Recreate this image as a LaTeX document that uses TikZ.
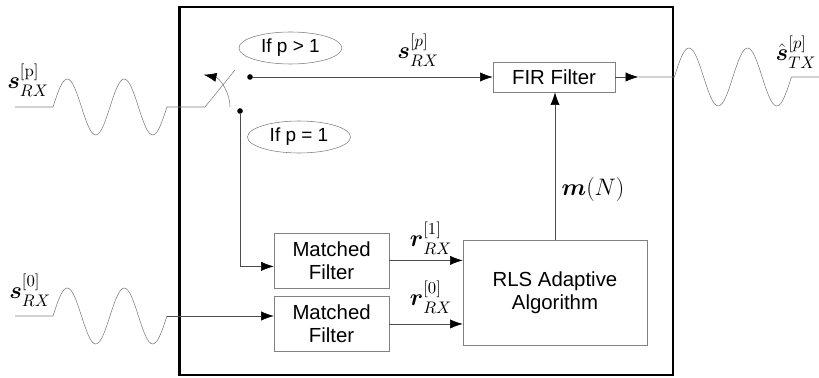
\documentclass[tikz,border=0pt]{standalone}
\usepackage{fix-cm}
\usepackage{amsmath}
\usepackage[no-math]{fontspec}
\setmainfont{Liberation Sans}
\usetikzlibrary{shapes,arrows.meta,positioning,calc}

\begin{document}
\begin{tikzpicture}[
    block/.style={rectangle, draw=gray, fill=white, align=center, inner sep=0pt, font=\fontsize{14.5}{16.5}\selectfont},
    cond/.style={ellipse, draw=gray, minimum width=2.575cm, minimum height=0.8cm, inner sep=0pt, font=\fontsize{13.5}{16}\selectfont},
    sig/.style={inner sep=0pt, font=\fontsize{17}{20}\selectfont},
    dot/.style={circle, fill=black, inner sep=0pt, minimum size=4pt},
    line/.style={draw=gray!60!black, thin},
    wave/.style={draw=gray, thin},
    arrow/.style={line, -{Latex[length=9pt, width=6.5pt, black]}}
]
\useasboundingbox (0,0) rectangle (20.475,-9.45);

% Frame
\node [draw, line width=2pt, minimum width=12.325cm, minimum height=9.2cm] (dsp) at (10.66,-4.775) {};

% Blocks
\node [block, minimum width=3.05cm, minimum height=0.75cm] (fir) at (13.85,-1.925) {FIR Filter};
\node [block, minimum width=4.6cm, minimum height=2.625cm] (rls) at (13.875,-7.325) {RLS Adaptive\\Algorithm};
\node [block, minimum width=2.875cm, minimum height=1.375cm] (mfa) at (8.29,-6.51) {Matched\\Filter};
\node [block, minimum width=2.875cm, minimum height=1.375cm, below=0.2cm of mfa] (mfb) {Matched\\Filter};

% Switch
\coordinate (pivot) at (5.125,-2.675);
\coordinate (blade) at (5.875,-1.75);
\node [dot] (hi) at (6.25,-1.925) {};
\node [dot] (lo) at (6.0,-2.775) {};
\node [cond] (pgt) at (7.26,-1.2) {If p > 1};
\node [cond] (peq) at (7.475,-3.425) {If p = 1};
\draw [wave] (pivot) -- (blade);
\draw [wave, -{Latex[length=9pt, width=6.5pt, black]}] ($(pivot)+(0.625,0)$) arc [start angle=0, end angle=78, radius=0.825];

% Input signals
\coordinate (inp) at (0.375,-2.675);
\coordinate (inz) at (0.375,-7.9);
\draw [wave] (inp) -- ++(0.95,0)
    \foreach \k in {1,2} {sin ++(0.356,0.7) cos ++(0.356,-0.7) sin ++(0.356,-0.7) cos ++(0.356,0.7)} -- (pivot);
\draw [wave] (inz) -- ++(0.95,0)
    \foreach \k in {1,2} {sin ++(0.356,0.7) cos ++(0.356,-0.7) sin ++(0.356,-0.7) cos ++(0.356,0.7)} coordinate (wz);
\draw [arrow] (wz) -- (wz -| mfb.west);

% Connections
\draw [arrow] (hi) -- (fir.west);
\draw [arrow] (lo) |- ([yshift=-0.15cm]mfa.west);
\draw [arrow] (mfa.east) -- (mfa.east -| rls.west);
\draw [arrow] (mfb.east) -- (mfb.east -| rls.west);
\draw [arrow] (rls.north) -- (rls.north |- fir.south);

% Output signal
\draw [arrow] (fir.east) -- ++(0.575,0) coordinate (tip);
\draw [wave] (tip) -- (tip -| dsp.east)
    \foreach \k in {1,2} {sin ++(0.366,0.725) cos ++(0.366,-0.725) sin ++(0.366,-0.725) cos ++(0.366,0.725)} -- ++(0.725,0) coordinate (out);

% Labels
\node [sig] (lblp) at (0.7,-2.0) {$\boldsymbol{s}_{RX}^{[\mathrm{p}]}$};
\node [sig] (lblz) at (0.75,-7.25) {$\boldsymbol{s}_{RX}^{[0]}$};
\node [sig] (lblf) at (10.45,-1.25) {$\boldsymbol{s}_{RX}^{[p]}$};
\node [sig] (lblo) at (19.9,-1.3) {$\hat{\boldsymbol{s}}_{TX}^{[p]}$};
\node [sig] (lblm) at (14.825,-4.75) {$\boldsymbol{m}(N)$};
\node [sig] (lbla) at (10.775,-5.95) {$\boldsymbol{r}_{RX}^{[1]}$};
\node [sig] (lblb) at (10.775,-7.425) {$\boldsymbol{r}_{RX}^{[0]}$};

\end{tikzpicture}
\end{document}
